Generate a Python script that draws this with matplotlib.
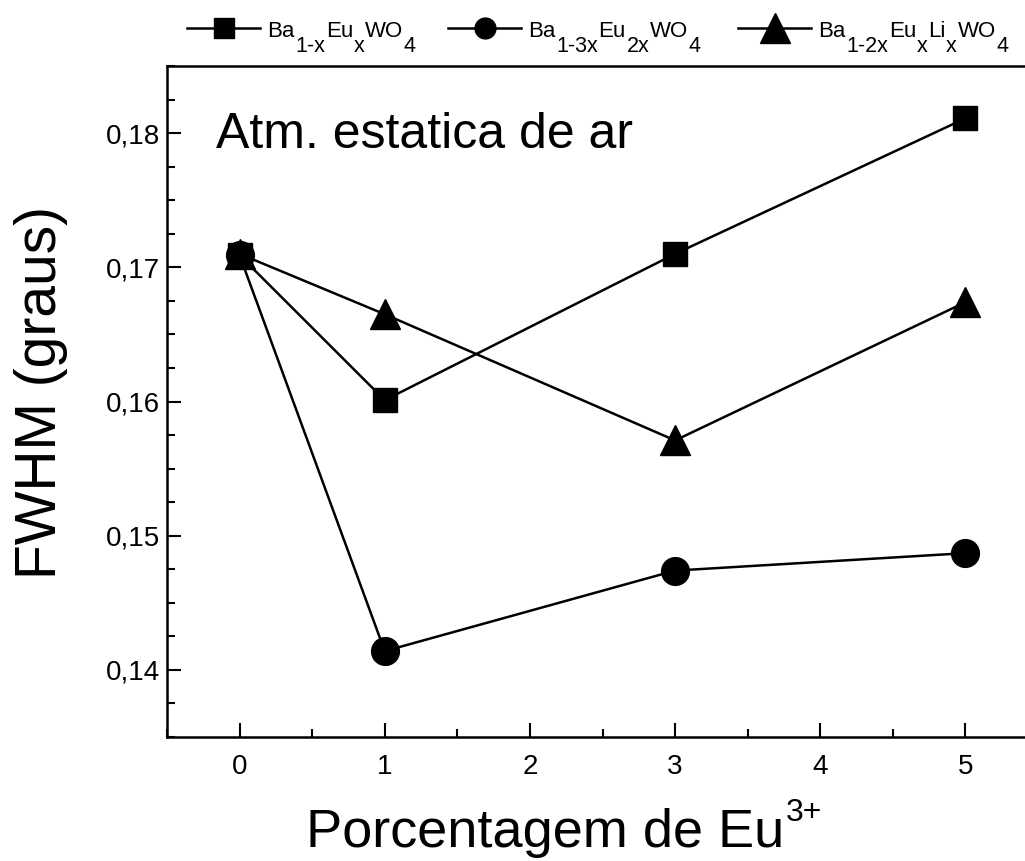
import matplotlib
matplotlib.use("Agg")
import matplotlib.pyplot as plt
from matplotlib.lines import Line2D
from matplotlib.ticker import MultipleLocator, FuncFormatter

plt.rcParams['font.family'] = ['Liberation Sans', 'DejaVu Sans']

# Data
eu_percent = [0, 1, 3, 5]
fwhm_ba_eu = [0.1709, 0.1601, 0.1710, 0.1811]
fwhm_ba_eu2 = [0.1709, 0.1414, 0.1474, 0.1487]
fwhm_ba_eu_li = [0.1710, 0.1665, 0.1571, 0.1674]
# legend labels as (text, is_subscript) pieces
label_ba_eu = [('Ba', False), ('1-x', True), ('Eu', False), ('x', True), ('WO', False), ('4', True)]
label_ba_eu2 = [('Ba', False), ('1-3x', True), ('Eu', False), ('2x', True), ('WO', False), ('4', True)]
label_ba_eu_li = [('Ba', False), ('1-2x', True), ('Eu', False), ('x', True), ('Li', False),
                  ('x', True), ('WO', False), ('4', True)]
x_ticks = [0, 1, 2, 3, 4, 5]
y_ticks = [0.14, 0.15, 0.16, 0.17, 0.18]

W, H = 1025, 861
fig = plt.figure(figsize=(W/100, H/100), dpi=100)
ax = fig.add_axes([167/W, 1-737/H, (1038-167)/W, (737-66)/H])

series = [(fwhm_ba_eu, 's', 17, 15, label_ba_eu),
          (fwhm_ba_eu2, 'o', 20, 15, label_ba_eu2),
          (fwhm_ba_eu_li, '^', 21, 21, label_ba_eu_li)]
for vals, mk, ms, _, _ in series:
    ax.plot(eu_percent, vals, '-', marker=mk, color='black', lw=1.8, ms=ms)

ax.set_xlim(-0.5, 5.5)
ax.set_ylim(0.135, 0.185)
ax.set_xticks(x_ticks)
ax.set_yticks(y_ticks)
ax.xaxis.set_minor_locator(MultipleLocator(0.5))
ax.yaxis.set_minor_locator(MultipleLocator(0.0025))
ax.yaxis.set_major_formatter(FuncFormatter(lambda v, p: f"{v:.2f}".replace('.', ',')))
ax.tick_params(which='both', direction='in', top=False, right=False, width=1.5)
ax.tick_params(which='major', length=10, labelsize=20)
ax.tick_params(axis='x', which='major', pad=12)
ax.tick_params(axis='y', which='major', pad=5)
ax.tick_params(which='minor', length=6)
for s in ax.spines.values():
    s.set_linewidth(1.8)

ax.set_ylabel('FWHM (graus)', fontsize=41)
ax.yaxis.set_label_coords(-0.1135, 0.514)
ax.set_xlabel('Porcentagem de Eu', fontsize=39)
ax.xaxis.set_label_coords(0.434, -0.106)
ax.annotate('3+', xy=(1, 1), xycoords=ax.xaxis.label, xytext=(1.5, 7),
            textcoords='offset points', fontsize=23, ha='left', va='top')
ax.text(0.056, 0.878, 'Atm. estatica de ar', transform=ax.transAxes, fontsize=36,
        va='baseline', ha='left')

# Legend (Origin style: full-size dropped subscripts)
legend_starts = [187, 448, 738]
handle_len = 73
line_y = 28
base_y = 37
for (vals, mk, ms, lms, pieces), x0 in zip(series, legend_starts):
    fx = [x0/W, (x0 + handle_len/2)/W, (x0 + handle_len)/W]
    fig.add_artist(Line2D(fx, [1-line_y/H]*3, transform=fig.transFigure, color='black',
                          lw=1.8, marker=mk, ms=lms, markevery=[1]))
    yb = 1 - base_y/H
    prev = fig.text((x0 + handle_len + 7)/W, yb, pieces[0][0], fontsize=16,
                    ha='left', va='baseline')
    for txt, is_sub in pieces[1:]:
        if is_sub:
            prev = ax.annotate(txt, xy=(1, yb), xycoords=(prev, 'figure fraction'),
                               xytext=(0.5, 0.8), textcoords='offset points',
                               fontsize=15.5, ha='left', va='top', annotation_clip=False)
        else:
            prev = ax.annotate(txt, xy=(1, yb), xycoords=(prev, 'figure fraction'),
                               xytext=(0.5, 0), textcoords='offset points',
                               fontsize=16, ha='left', va='baseline', annotation_clip=False)

fig.savefig('out.png', dpi=100, facecolor='white')
